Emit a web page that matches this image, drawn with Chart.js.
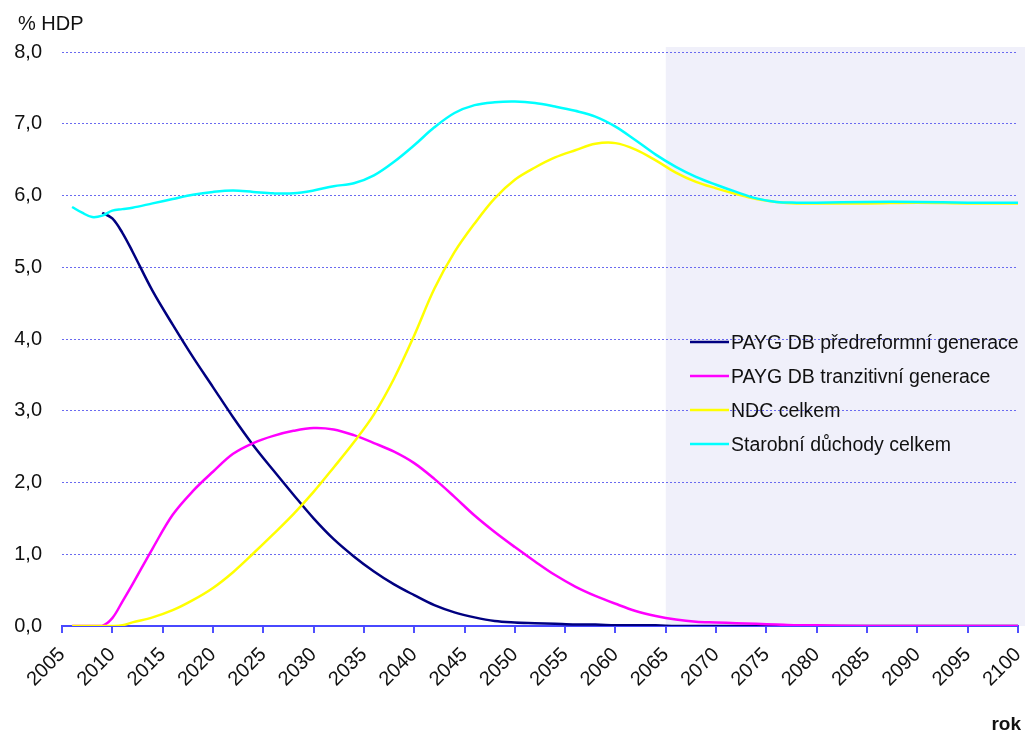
<!DOCTYPE html>
<html>
<head>
<meta charset="utf-8">
<script src="https://cdn.jsdelivr.net/npm/chart.js@4.4.1/dist/chart.umd.min.js"></script>
<style>html,body{margin:0;background:#fff}</style>
</head>
<body>
<canvas id="c" width="1025" height="733"></canvas>
<script>
const years = [2006, 2007, 2008, 2009, 2010, 2011, 2012, 2014, 2016, 2018, 2020, 2022, 2024, 2026, 2028, 2030, 2032, 2034, 2036, 2038, 2040,
    2042, 2044, 2046, 2048, 2050, 2052, 2054, 2056, 2058, 2060, 2062, 2064, 2066, 2068, 2070, 2072, 2074, 2076, 2078, 2080, 2085, 2090, 2095, 2100];

const predreformni = [null, null, null, 5.76, 5.68, 5.48, 5.22, 4.67, 4.20, 3.75, 3.33, 2.91, 2.52, 2.17, 1.83, 1.50, 1.21, 0.97, 0.76, 0.58, 0.43,
    0.29, 0.19, 0.12, 0.07, 0.05, 0.04, 0.03, 0.02, 0.02, 0.01, 0.01, 0.01, 0, 0, 0, 0, 0, 0, 0, 0, 0, 0, 0, 0];
const tranzitivni = [0, 0, 0, 0, 0.11, 0.34, 0.58, 1.08, 1.55, 1.88, 2.15, 2.40, 2.55, 2.65, 2.72, 2.76, 2.74, 2.66, 2.55, 2.43, 2.27,
    2.05, 1.80, 1.54, 1.31, 1.10, 0.90, 0.71, 0.55, 0.42, 0.31, 0.21, 0.14, 0.09, 0.06, 0.05, 0.04, 0.03, 0.02, 0.01, 0.01, 0, 0, 0, 0];
const ndc = [0, 0, 0, 0, 0, 0.01, 0.05, 0.12, 0.22, 0.36, 0.53, 0.75, 1.01, 1.28, 1.56, 1.87, 2.21, 2.56, 2.95, 3.45, 4.05,
    4.70, 5.21, 5.61, 5.96, 6.22, 6.39, 6.53, 6.63, 6.72, 6.73, 6.64, 6.49, 6.32, 6.19, 6.10, 6.02, 5.95, 5.91, 5.89, 5.89, 5.89, 5.90, 5.89, 5.89];
const celkem = [5.84, 5.76, 5.70, 5.72, 5.79, 5.81, 5.83, 5.89, 5.95, 6.01, 6.05, 6.07, 6.05, 6.03, 6.03, 6.07, 6.13, 6.17, 6.28, 6.47, 6.70,
    6.95, 7.15, 7.26, 7.30, 7.31, 7.29, 7.24, 7.18, 7.10, 6.96, 6.77, 6.57, 6.40, 6.26, 6.15, 6.05, 5.96, 5.91, 5.90, 5.90, 5.91, 5.91, 5.90, 5.90];

const seriesNames = ['PAYG DB předreformní generace', 'PAYG DB tranzitivní generace', 'NDC celkem', 'Starobní důchody celkem'];
const seriesColors = ['#000080', '#ff00ff', '#ffff00', '#00ffff'];
const yTickLabels = ['0,0', '1,0', '2,0', '3,0', '4,0', '5,0', '6,0', '7,0', '8,0'];
const yTitle = '% HDP';
const xTitle = 'rok';
const projectionFrom = 2065;

const FONT = 'Arial, "Liberation Sans", sans-serif';

const toPoints = (vals) => years.map((yr, i) => ({ x: yr, y: vals[i] }));

// white page + shaded projection period, under the grid
const shading = {
    id: 'shading',
    beforeDraw(chart) {
        const { ctx, scales: { x, y } } = chart;
        ctx.save();
        ctx.fillStyle = '#fff';
        ctx.fillRect(0, 0, chart.width, chart.height);
        const left = x.getPixelForValue(projectionFrom);
        const top = y.getPixelForValue(8.07);
        ctx.fillStyle = '#f0f0fa';
        ctx.fillRect(left, top, chart.width - left, y.getPixelForValue(0) - top);
        ctx.restore();
    }
};

// axis titles and the legend sitting inside the plot
const extras = {
    id: 'extras',
    afterDraw(chart) {
        const { ctx } = chart;
        ctx.save();
        ctx.fillStyle = '#111';
        ctx.font = '20px ' + FONT;
        ctx.textAlign = 'left';
        ctx.textBaseline = 'alphabetic';
        ctx.fillText(yTitle, 18, 30);
        ctx.font = 'bold 19px ' + FONT;
        ctx.textAlign = 'right';
        ctx.fillText(xTitle, 1021, 730);

        ctx.font = '19.5px ' + FONT;
        ctx.textAlign = 'left';
        seriesNames.forEach((name, i) => {
            const ly = 342 + i * 34;
            ctx.strokeStyle = seriesColors[i];
            ctx.lineWidth = 2.5;
            ctx.beginPath();
            ctx.moveTo(690, ly);
            ctx.lineTo(729, ly);
            ctx.stroke();
            ctx.fillStyle = '#111';
            ctx.fillText(name, 731, ly + 7);
        });
        ctx.restore();
    }
};

const data = [predreformni, tranzitivni, ndc, celkem];

new Chart(document.getElementById('c'), {
    type: 'line',
    data: {
        datasets: data.map((vals, i) => ({
            label: seriesNames[i],
            data: toPoints(vals),
            borderColor: seriesColors[i],
            borderWidth: 2.5,
            pointRadius: 0,
            tension: 0.35,
            order: 3 - i
        }))
    },
    options: {
        responsive: false,
        animation: false,
        layout: { padding: { top: 52, right: 7, bottom: 0, left: 0 } },
        plugins: {
            legend: { display: false },
            tooltip: { enabled: false }
        },
        scales: {
            x: {
                type: 'linear',
                min: 2005,
                max: 2100,
                afterFit: (s) => { s.height = 107; s.paddingRight = 0; s.paddingLeft = 0; },
                grid: { drawOnChartArea: false, drawTicks: true, tickLength: 7, color: '#5050ff', lineWidth: 2 },
                border: { display: true, color: '#4848ff', width: 2 },
                ticks: {
                    stepSize: 5,
                    autoSkip: false,
                    maxRotation: 45,
                    minRotation: 45,
                    padding: 10,
                    color: '#111',
                    font: { family: FONT, size: 20 },
                    callback: (v) => String(v)
                }
            },
            y: {
                min: 0,
                max: 8,
                afterFit: (s) => { s.width = 62; },
                grid: { color: '#6a6af0', lineWidth: 1, drawTicks: false },
                border: { display: false, dash: [2, 2] },
                ticks: {
                    stepSize: 1,
                    padding: 20,
                    color: '#111',
                    font: { family: FONT, size: 20 },
                    callback: (v, i) => yTickLabels[i]
                }
            }
        }
    },
    plugins: [shading, extras]
});
</script>
</body>
</html>
